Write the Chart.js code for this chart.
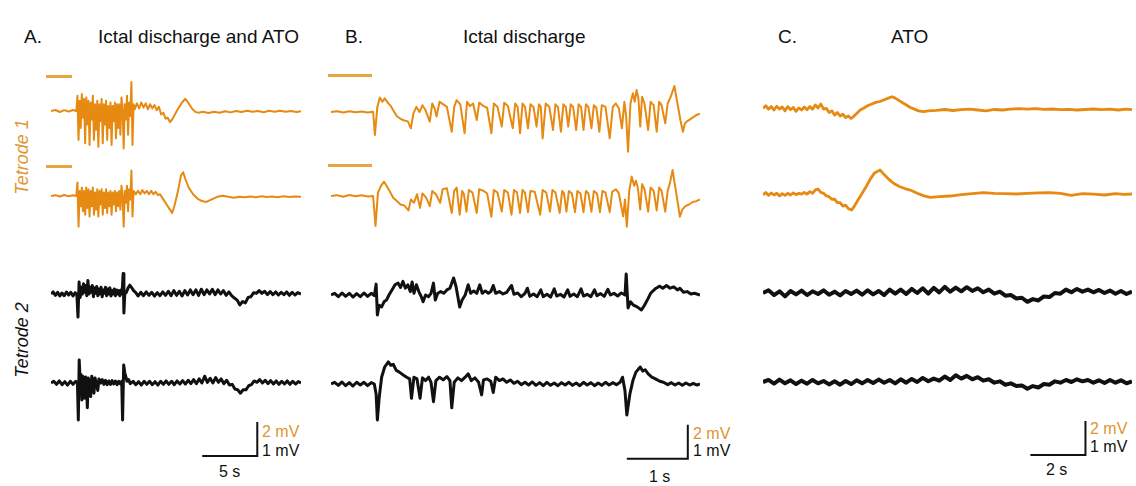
<!DOCTYPE html>
<html>
<head>
<meta charset="utf-8">
<script src="https://cdn.jsdelivr.net/npm/chart.js"></script>
<style>
  body { margin: 0; background: #fff; }
  #fig { position: relative; width: 1136px; height: 486px; overflow: hidden;
         font-family: "Liberation Sans", Arial, sans-serif; color: #111; }
  #fig canvas { position: absolute; }
  .txt { position: absolute; white-space: nowrap; line-height: 1; }
  .title { font-size: 19px; top: 27px; }
  .ylab { font-size: 18px; font-style: italic; transform: translate(-50%, -50%) rotate(-90deg); }
  .scale { font-size: 16px; }
  .orange { color: #e0952e; }
  .mark { position: absolute; height: 3px; background: #e8a540; }
</style>
</head>
<body>
<div id="fig">
  <div class="txt title" style="left:24px">A.</div>
  <div class="txt title" style="left:98px">Ictal discharge and ATO</div>
  <div class="txt title" style="left:345px">B.</div>
  <div class="txt title" style="left:463px">Ictal discharge</div>
  <div class="txt title" style="left:778px">C.</div>
  <div class="txt title" style="left:891px">ATO</div>

  <div class="txt ylab orange" style="left:22px;top:157px">Tetrode 1</div>
  <div class="txt ylab" style="left:22px;top:340px">Tetrode 2</div>

  <div class="mark" style="left:46px;top:75px;width:26px"></div>
  <div class="mark" style="left:46px;top:165px;width:26px"></div>
  <div class="mark" style="left:328px;top:74px;width:44px"></div>
  <div class="mark" style="left:328px;top:164px;width:44px"></div>

  <div class="txt scale orange" style="left:262px;top:424px">2 mV</div>
  <div class="txt scale" style="left:262px;top:443px">1 mV</div>
  <div class="txt scale" style="left:219px;top:464px">5 s</div>
  <div class="txt scale orange" style="left:693px;top:426px">2 mV</div>
  <div class="txt scale" style="left:693px;top:443px">1 mV</div>
  <div class="txt scale" style="left:649px;top:469px">1 s</div>
  <div class="txt scale orange" style="left:1090px;top:421px">2 mV</div>
  <div class="txt scale" style="left:1090px;top:439px">1 mV</div>
  <div class="txt scale" style="left:1046px;top:462px">2 s</div>
</div>

<script>
// ---- traces: [time (s), value (mV)] ----

// A. Ictal discharge and ATO
const aTetrode1ch1 = [
  [0,0],[0.4,0.06],[0.8,-0.06],[1.2,0.05],[1.6,-0.03],[2.0,0.06],[2.3,0],
  [2.4,0.9],[2.5,-1.7],[2.6,0.6],[2.7,-1.0],[2.8,1.0],[2.9,-0.4],[3.0,0.7],[3.1,-1.9],[3.2,0.8],[3.3,-0.8],
  [3.4,0.6],[3.5,-2.0],[3.6,0.5],[3.7,-0.5],[3.8,0.9],[3.9,-1.7],[4.0,0.4],[4.1,-1.1],[4.2,0.6],[4.3,-2.1],
  [4.4,0.4],[4.5,-0.6],[4.6,0.7],[4.7,-1.9],[4.8,0.4],[4.9,-0.8],[5.0,0.6],[5.1,-1.7],[5.2,0.3],[5.3,-1.0],
  [5.4,0.5],[5.5,-2.0],[5.6,0.3],[5.7,-0.6],[5.8,0.5],[5.9,-1.6],[6.0,0.4],[6.1,-1.0],[6.2,0.4],[6.3,-1.4],
  [6.4,0.8],[6.5,0.1],[6.6,-2.2],[6.7,0.4],[6.8,-0.5],[6.9,0.9],[7.0,-1.4],[7.1,0.5],[7.2,-0.3],[7.3,1.7],
  [7.4,-2.0],[7.5,0.4],
  [7.6,0.1],[7.8,0.45],[8.0,0.15],[8.2,0.5],[8.4,0.2],[8.6,0.45],[8.8,0.1],[9.0,0.4],[9.2,0.15],[9.4,0.35],
  [9.6,0.05],[9.8,0.25],[10.0,-0.2],[10.2,-0.1],[10.4,-0.45],[10.6,-0.4],[10.8,-0.65],[11.0,-0.5],[11.3,-0.15],
  [11.6,0.2],[11.9,0.5],[12.2,0.72],[12.5,0.45],[12.8,0.15],[13.1,-0.05],[13.4,-0.1],
  [13.8,-0.05],[14.3,-0.12],[14.8,-0.04],[15.3,-0.1],[15.8,-0.02],[16.3,-0.08],[16.8,0.0],[17.3,-0.06],
  [17.8,0.02],[18.3,-0.05],[18.8,0.0],[19.3,-0.07],[19.8,0.01],[20.3,-0.04],[20.8,0.02],[21.3,-0.05],
  [21.8,0.0],[22.3,-0.06],[22.7,-0.02]
];
const aTetrode1ch2 = [
  [0,0],[0.4,0.05],[0.8,-0.03],[1.2,0.06],[1.6,-0.02],[2.0,0.04],[2.3,0],
  [2.4,0.8],[2.5,-1.8],[2.6,0.3],[2.7,-0.6],[2.8,0.5],[2.9,-0.9],[3.0,0.3],[3.1,-1.1],[3.2,0.5],[3.3,-0.7],
  [3.4,0.4],[3.5,-1.2],[3.6,0.3],[3.7,-0.6],[3.8,0.5],[3.9,-1.1],[4.0,0.2],[4.1,-0.8],[4.2,0.4],[4.3,-1.2],
  [4.4,0.3],[4.5,-0.5],[4.6,0.4],[4.7,-1.1],[4.8,0.2],[4.9,-0.7],[5.0,0.4],[5.1,-1.0],[5.2,0.2],[5.3,-0.6],
  [5.4,0.3],[5.5,-1.1],[5.6,0.2],[5.7,-0.5],[5.8,0.3],[5.9,-0.9],[6.0,0.2],[6.1,-0.6],[6.2,0.3],[6.3,-0.8],
  [6.4,0.6],[6.5,0.0],[6.6,-1.8],[6.7,0.3],[6.8,-0.4],[6.9,0.6],[7.0,-0.9],[7.1,0.4],[7.2,-0.2],[7.3,1.5],
  [7.4,-1.2],[7.5,0.3],
  [7.7,0.1],[7.9,0.3],[8.1,0.1],[8.3,0.35],[8.5,0.15],[8.7,0.3],[8.9,0.1],[9.1,0.3],[9.3,0.1],[9.5,0.25],
  [9.7,0.05],[9.9,0.1],[10.2,-0.2],[10.5,-0.5],[10.8,-0.8],[11.0,-1.0],[11.2,-0.6],[11.5,0.2],[11.8,1.2],
  [12.0,1.4],[12.2,1.0],[12.5,0.5],[12.9,0.1],[13.3,-0.15],[13.7,-0.3],[14.1,-0.35],[14.6,-0.2],[15.1,-0.05],
  [15.6,0.02],[16.1,-0.05],[16.6,-0.1],[17.1,-0.05],[17.6,-0.08],[18.1,-0.03],[18.6,-0.07],[19.1,-0.02],
  [19.6,-0.06],[20.1,-0.03],[20.6,-0.07],[21.1,-0.02],[21.6,-0.06],[22.1,-0.03],[22.7,-0.05]
];
const aTetrode2ch1 = [
  [0,0],[0.2,0.06],[0.4,-0.04],[0.6,0.05],[0.8,-0.06],[1.0,0.03],[1.2,-0.05],[1.4,0.06],[1.6,-0.03],
  [1.8,0.05],[2.0,-0.06],[2.2,0.04],[2.35,-0.02],
  [2.45,-0.68],[2.55,0.35],[2.65,-0.1],[2.75,0.2],[2.85,0.0],[2.95,0.3],[3.05,0.05],[3.15,0.25],[3.25,-0.05],
  [3.35,0.4],[3.45,0.0],[3.55,0.2],[3.65,0.05],[3.75,0.25],[3.85,-0.08],[3.95,0.18],[4.05,0.02],[4.15,0.22],
  [4.25,-0.05],[4.35,0.15],[4.45,0.0],[4.55,0.2],[4.65,-0.08],[4.75,0.12],[4.85,0.02],[4.95,0.2],[5.05,-0.05],
  [5.15,0.15],[5.25,0.0],[5.35,0.18],[5.45,-0.06],[5.55,0.1],[5.65,0.0],[5.75,0.15],[5.85,-0.05],[5.95,0.12],
  [6.05,0.0],[6.15,0.1],[6.25,-0.05],[6.35,0.12],[6.45,0.0],[6.55,0.6],[6.62,-0.56],[6.7,0.0],[6.85,0.05],
  [7.0,0.18],[7.15,0.26],[7.3,0.2],[7.5,0.1],
  [7.7,0.04],[7.9,-0.06],[8.15,0.05],[8.4,-0.05],[8.65,0.06],[8.9,-0.04],[9.15,0.05],[9.4,-0.06],[9.65,0.04],
  [9.9,-0.05],[10.15,0.06],[10.4,-0.04],[10.65,0.08],[10.9,-0.05],[11.15,0.1],[11.4,-0.04],[11.65,0.08],
  [11.9,-0.06],[12.15,0.1],[12.4,-0.03],[12.65,0.12],[12.9,-0.02],[13.15,0.12],[13.4,-0.04],[13.65,0.14],
  [13.9,-0.02],[14.15,0.12],[14.4,0.0],[14.65,0.14],[14.9,-0.02],[15.15,0.12],[15.4,0.0],[15.65,0.1],
  [15.9,-0.04],[16.15,0.06],[16.4,-0.05],[16.65,-0.12],[16.9,-0.18],[17.15,-0.32],[17.4,-0.22],[17.65,-0.26],
  [17.9,-0.1],[18.15,-0.08],[18.4,0.04],[18.65,0.02],[18.9,0.1],[19.15,0.02],[19.4,0.08],[19.65,-0.02],
  [19.9,0.07],[20.15,-0.02],[20.4,0.06],[20.65,-0.03],[20.9,0.05],[21.15,-0.02],[21.4,0.06],[21.65,-0.04],
  [21.9,0.05],[22.15,-0.03],[22.4,0.04],[22.7,0.0]
];
const aTetrode2ch2 = [
  [0,0],[0.25,0.05],[0.5,-0.04],[0.75,0.06],[1.0,-0.05],[1.25,0.04],[1.5,-0.06],[1.75,0.05],[2.0,-0.04],
  [2.25,0.05],[2.4,0.0],
  [2.48,-1.09],[2.56,0.68],[2.64,0.1],[2.72,0.25],[2.8,-0.5],[2.88,0.2],[2.96,0.05],[3.05,-0.45],[3.14,0.18],
  [3.22,0.0],[3.3,-0.73],[3.38,0.15],[3.47,0.05],[3.6,-0.4],[3.7,0.2],[3.8,0.05],[3.9,-0.3],[4.0,0.15],
  [4.1,0.0],[4.25,-0.22],[4.35,0.12],[4.5,0.0],[4.65,0.1],[4.8,-0.04],[4.95,0.08],[5.1,-0.05],[5.25,0.06],
  [5.4,-0.04],[5.55,0.07],[5.7,-0.03],[5.85,0.06],[6.0,-0.05],[6.15,0.05],[6.3,-0.03],[6.42,0.05],
  [6.5,-1.09],[6.6,0.53],[6.7,0.3],[6.8,0.18],[6.9,0.05],[7.05,0.1],[7.2,-0.02],[7.45,0.05],[7.7,-0.05],
  [7.95,0.04],[8.2,-0.06],[8.45,0.05],[8.7,-0.04],[8.95,0.05],[9.2,-0.05],[9.45,0.04],[9.7,-0.06],[9.95,0.05],
  [10.2,-0.04],[10.45,0.06],[10.7,-0.04],[10.95,0.05],[11.2,-0.05],[11.45,0.06],[11.7,-0.03],[11.95,0.07],
  [12.2,-0.03],[12.45,0.08],[12.7,-0.02],[12.95,0.1],[13.2,-0.02],[13.45,0.12],[13.7,0.0],[13.95,0.2],
  [14.2,0.02],[14.45,0.14],[14.7,0.0],[14.95,0.16],[15.2,0.02],[15.45,0.12],[15.7,-0.02],[15.95,0.08],
  [16.2,-0.06],[16.45,-0.04],[16.7,-0.18],[16.95,-0.2],[17.2,-0.3],[17.45,-0.2],[17.7,-0.2],[17.95,-0.08],
  [18.2,-0.05],[18.45,0.06],[18.7,0.02],[18.95,0.1],[19.2,0.0],[19.45,0.08],[19.7,-0.02],[19.95,0.07],
  [20.2,-0.03],[20.45,0.06],[20.7,-0.04],[20.95,0.05],[21.2,-0.03],[21.45,0.06],[21.7,-0.04],[21.95,0.05],
  [22.2,-0.03],[22.45,0.04],[22.7,0.0]
];

// B. Ictal discharge
const bTetrode1ch1 = [
  [0,0],[0.1,0.04],[0.2,-0.03],[0.3,0.05],[0.4,-0.02],[0.5,0.03],[0.6,-0.03],[0.69,0.02],
  [0.72,-1.35],[0.76,0.3],[0.8,0.85],[0.84,0.6],[0.88,0.8],[0.93,0.55],[0.98,0.35],[1.02,0.1],[1.08,-0.25],
  [1.14,-0.4],[1.2,-0.5],[1.26,-0.55],[1.31,-0.96],[1.35,-0.1],[1.4,0.3],[1.45,0.0],[1.5,0.4],[1.55,0.1],
  [1.62,-0.57],[1.66,0.5],[1.7,0.2],[1.73,-0.27],[1.78,0.6],[1.84,0.45],[1.9,0.3],[1.98,-1.16],[2.02,0.3],
  [2.06,0.7],[2.12,0.45],[2.19,-1.25],[2.23,0.6],[2.28,0.35],[2.33,0.5],[2.39,-0.47],[2.43,0.55],[2.5,0.35],
  [2.56,0.25],[2.63,-1.25],[2.67,0.5],[2.73,0.3],[2.8,-0.86],[2.84,0.55],[2.9,0.35],[2.98,-0.96],[3.02,0.5],
  [3.06,0.3],[3.1,-1.25],[3.14,0.5],[3.18,0.3],[3.23,-0.96],[3.27,0.45],[3.32,0.3],[3.37,-0.86],[3.41,0.45],
  [3.44,0.3],[3.47,-1.55],[3.52,0.5],[3.58,0.3],[3.64,-1.06],[3.68,0.45],[3.72,0.3],[3.77,-1.16],[3.81,0.45],
  [3.85,0.3],[3.89,-0.86],[3.93,0.45],[3.97,0.3],[4.02,-1.06],[4.06,0.45],[4.1,0.3],[4.14,-1.06],[4.18,0.45],
  [4.22,0.3],[4.27,-0.96],[4.31,0.4],[4.35,0.25],[4.4,-1.16],[4.44,0.4],[4.5,0.3],[4.57,-1.55],[4.62,0.3],
  [4.67,0.5],[4.72,0.2],[4.77,-0.96],[4.81,0.6],[4.84,-0.3],[4.87,-2.33],[4.91,0.5],[4.95,1.1],[4.98,0.6],
  [5.01,1.3],[5.04,0.8],[5.07,-0.86],[5.1,0.9],[5.14,0.5],[5.2,-1.06],[5.24,0.6],[5.29,0.4],[5.34,-1.16],
  [5.38,0.6],[5.42,0.4],[5.48,-0.67],[5.52,0.5],[5.57,0.9],[5.63,1.53],[5.68,0.5],[5.73,-0.5],[5.77,-1.16],
  [5.8,-0.7],[5.83,-0.57],[5.88,-0.45],[5.94,-0.3],[5.99,-0.18],[6.05,-0.1]
];
const bTetrode1ch2 = [
  [0,0],[0.1,0.05],[0.2,-0.04],[0.3,0.06],[0.4,-0.02],[0.5,0.04],[0.6,-0.03],[0.69,0.0],
  [0.73,-1.76],[0.77,0.2],[0.82,0.6],[0.87,0.84],[0.91,0.6],[0.96,0.3],[1.02,-0.1],[1.08,-0.3],[1.14,-0.5],
  [1.2,-0.55],[1.27,-0.85],[1.31,-0.2],[1.36,-0.4],[1.41,0.1],[1.46,-0.7],[1.5,0.15],[1.56,-0.1],[1.62,-0.6],
  [1.66,0.3],[1.72,0.1],[1.79,-0.4],[1.83,0.4],[1.9,0.45],[1.98,-1.0],[2.02,0.3],[2.06,0.5],[2.11,-1.1],
  [2.15,0.3],[2.18,0.1],[2.22,-0.92],[2.26,0.35],[2.32,0.2],[2.39,-1.0],[2.43,0.4],[2.5,0.3],[2.56,0.15],
  [2.63,-1.22],[2.67,0.35],[2.73,0.2],[2.8,-0.92],[2.84,0.35],[2.9,0.2],[2.96,-1.1],[3.0,0.35],[3.05,0.2],
  [3.1,-1.0],[3.14,0.35],[3.18,0.2],[3.23,-0.95],[3.27,0.3],[3.34,0.25],[3.43,-1.1],[3.47,0.35],[3.53,0.2],
  [3.59,-0.92],[3.63,0.35],[3.68,0.2],[3.75,-1.0],[3.79,0.3],[3.82,0.15],[3.86,-0.92],[3.9,0.3],[3.95,0.15],
  [4.0,-0.95],[4.04,0.3],[4.09,0.15],[4.14,-0.95],[4.18,0.3],[4.22,0.15],[4.27,-0.92],[4.31,0.3],[4.36,0.15],
  [4.41,-0.95],[4.45,0.3],[4.5,0.2],[4.57,-0.95],[4.61,0.25],[4.67,0.4],[4.72,0.15],[4.79,-1.2],[4.82,-0.2],
  [4.85,-1.8],[4.89,0.3],[4.93,1.14],[4.97,0.6],[5.0,0.9],[5.03,0.5],[5.07,-0.8],[5.1,0.7],[5.14,0.4],
  [5.2,-0.92],[5.24,0.5],[5.29,0.3],[5.34,-0.85],[5.38,0.5],[5.42,0.3],[5.48,-0.92],[5.52,0.3],[5.56,0.8],
  [5.6,1.53],[5.65,0.4],[5.69,-0.5],[5.72,-1.22],[5.76,-0.8],[5.81,-0.6],[5.87,-0.5],[5.93,-0.35],[5.99,-0.3],
  [6.05,-0.2]
];
const bTetrode2ch1 = [
  [0,0],[0.06,0.05],[0.12,-0.05],[0.18,0.06],[0.24,-0.04],[0.3,0.05],[0.36,-0.06],[0.42,0.04],[0.48,-0.05],
  [0.54,0.06],[0.6,-0.04],[0.66,0.05],[0.71,-0.02],
  [0.74,0.32],[0.76,-0.59],[0.79,-0.3],[0.83,-0.35],[0.87,-0.2],[0.91,-0.15],[0.95,0.0],[1.0,0.15],[1.05,0.3],
  [1.1,0.35],[1.14,0.22],[1.18,0.4],[1.22,0.2],[1.26,0.3],[1.3,0.1],[1.33,0.38],[1.36,0.05],[1.4,0.3],
  [1.44,0.1],[1.48,-0.05],[1.51,-0.2],[1.55,0.0],[1.6,-0.05],[1.64,0.05],[1.68,0.35],[1.71,-0.15],[1.75,0.05],
  [1.8,0.1],[1.85,0.05],[1.9,0.15],[1.95,0.2],[2.01,0.5],[2.05,0.25],[2.11,-0.35],[2.15,-0.15],[2.2,0.0],
  [2.25,0.3],[2.29,0.05],[2.34,0.12],[2.39,0.05],[2.44,0.3],[2.48,0.05],[2.53,0.12],[2.58,0.05],[2.62,0.1],
  [2.66,0.28],[2.7,0.05],[2.76,0.1],[2.82,0.03],[2.88,0.08],[2.96,0.28],[3.0,0.02],[3.06,0.06],[3.12,-0.05],
  [3.18,0.05],[3.22,0.2],[3.26,-0.04],[3.32,0.03],[3.38,-0.05],[3.44,0.15],[3.48,-0.05],[3.54,0.02],
  [3.6,-0.06],[3.66,0.18],[3.7,-0.03],[3.76,0.02],[3.82,-0.06],[3.88,0.15],[3.92,-0.04],[3.98,0.03],
  [4.04,-0.05],[4.1,0.18],[4.14,-0.03],[4.2,0.02],[4.26,-0.05],[4.32,0.15],[4.36,-0.02],[4.42,0.04],
  [4.48,-0.04],[4.54,0.17],[4.58,0.0],[4.64,0.05],[4.7,-0.03],[4.76,0.06],[4.82,0.0],[4.84,0.62],[4.87,-0.38],
  [4.91,-0.2],[4.96,-0.3],[5.02,-0.35],[5.09,-0.44],[5.14,-0.3],[5.2,-0.1],[5.24,0.05],[5.28,0.12],[5.33,0.2],
  [5.39,0.26],[5.44,0.2],[5.5,0.28],[5.56,0.2],[5.62,0.24],[5.68,0.15],[5.72,0.2],[5.78,0.08],[5.84,0.1],
  [5.9,0.03],[5.96,0.05],[6.05,0.0]
];
const bTetrode2ch2 = [
  [0,0],[0.06,0.05],[0.12,-0.04],[0.18,0.06],[0.24,-0.05],[0.3,0.04],[0.36,-0.06],[0.42,0.05],[0.48,-0.03],
  [0.54,0.05],[0.6,-0.05],[0.66,0.04],[0.71,0.0],
  [0.74,-0.3],[0.76,-1.06],[0.79,-0.4],[0.83,0.2],[0.88,0.5],[0.94,0.65],[0.98,0.55],[1.02,0.58],[1.07,0.4],
  [1.12,0.35],[1.19,0.26],[1.24,0.2],[1.29,0.15],[1.32,-0.42],[1.36,0.2],[1.41,0.15],[1.46,-0.42],[1.5,0.18],
  [1.55,0.1],[1.6,0.2],[1.64,0.05],[1.68,-0.52],[1.72,0.1],[1.78,0.2],[1.84,0.12],[1.9,0.22],[1.95,0.1],
  [1.98,-0.7],[2.02,0.05],[2.08,0.18],[2.14,0.1],[2.2,0.2],[2.25,0.3],[2.3,0.1],[2.36,0.18],[2.42,0.05],
  [2.47,-0.32],[2.5,0.12],[2.56,0.15],[2.62,0.08],[2.66,-0.25],[2.7,0.2],[2.76,0.1],[2.82,0.15],[2.88,0.05],
  [2.94,0.12],[3.0,0.02],[3.06,0.08],[3.12,-0.02],[3.18,0.05],[3.24,-0.03],[3.3,0.06],[3.36,-0.04],[3.42,0.04],
  [3.48,-0.05],[3.54,0.05],[3.6,-0.04],[3.66,0.03],[3.72,-0.05],[3.78,0.04],[3.84,-0.03],[3.9,0.05],
  [3.96,-0.04],[4.02,0.03],[4.08,-0.05],[4.14,0.05],[4.2,-0.03],[4.26,0.04],[4.32,-0.05],[4.38,0.03],
  [4.44,-0.04],[4.5,0.05],[4.56,-0.03],[4.62,0.04],[4.68,-0.02],[4.74,0.05],[4.78,0.2],[4.82,-0.2],
  [4.85,-0.91],[4.9,-0.3],[4.95,0.1],[5.0,0.35],[5.07,0.5],[5.11,0.38],[5.15,0.42],[5.2,0.3],[5.26,0.2],
  [5.32,0.15],[5.39,0.08],[5.45,0.05],[5.52,-0.02],[5.58,0.04],[5.64,-0.03],[5.7,0.03],[5.76,-0.04],
  [5.82,0.03],[5.88,-0.03],[5.94,0.02],[6.0,-0.03],[6.05,0.0]
];

// C. ATO
const cTetrode1ch1 = [
  [0,0.1],[0.1,0.25],[0.2,0.05],[0.3,0.2],[0.4,0.0],[0.5,0.22],[0.6,0.05],[0.7,0.18],[0.8,-0.05],[0.9,0.2],
  [1.0,0.02],[1.1,0.15],[1.2,-0.08],[1.3,0.12],[1.4,0.0],[1.5,0.18],[1.6,0.02],[1.7,0.2],[1.8,0.05],[1.9,0.3],
  [2.0,0.12],[2.1,0.35],[2.2,0.05],[2.3,0.1],[2.4,-0.15],[2.5,-0.05],[2.6,-0.3],[2.7,-0.15],[2.8,-0.35],
  [2.9,-0.25],[3.0,-0.45],[3.1,-0.35],[3.2,-0.5],[3.28,-0.4],[3.4,-0.2],[3.53,0.0],[3.65,0.1],[3.8,0.25],
  [3.95,0.35],[4.1,0.45],[4.25,0.5],[4.4,0.6],[4.55,0.7],[4.68,0.78],[4.8,0.7],[4.95,0.55],[5.1,0.4],
  [5.22,0.28],[5.35,0.15],[5.5,0.05],[5.65,-0.05],[5.83,-0.1],[6.0,-0.05],[6.3,-0.02],[6.6,0.03],[6.9,-0.03],
  [7.2,0.02],[7.5,0.05],[7.8,0.0],[8.1,-0.05],[8.4,0.03],[8.7,0.0],[9.0,0.05],[9.3,0.08],[9.6,0.05],
  [9.9,0.08],[10.2,0.04],[10.5,0.06],[10.8,0.02],[11.1,0.04],[11.4,0.0],[11.7,0.03],[12.0,0.06],[12.3,0.02],
  [12.6,0.05],[12.9,0.0],[13.2,0.05],[13.4,0.02]
];
const cTetrode1ch2 = [
  [0,0],[0.1,0.15],[0.2,-0.02],[0.3,0.12],[0.4,0.0],[0.5,0.1],[0.6,-0.05],[0.7,0.08],[0.8,-0.02],[0.9,0.1],
  [1.0,0.0],[1.1,0.12],[1.2,0.02],[1.3,0.1],[1.4,0.05],[1.5,0.15],[1.6,0.05],[1.7,0.2],[1.8,0.1],[1.9,0.3],
  [2.0,0.35],[2.1,0.15],[2.2,0.1],[2.3,-0.05],[2.4,-0.1],[2.5,-0.25],[2.6,-0.25],[2.7,-0.45],[2.8,-0.45],
  [2.9,-0.65],[3.0,-0.6],[3.1,-0.8],[3.22,-0.88],[3.3,-0.7],[3.45,-0.3],[3.6,0.1],[3.75,0.5],[3.9,0.95],
  [4.05,1.3],[4.25,1.47],[4.4,1.2],[4.55,0.95],[4.74,0.69],[4.95,0.5],[5.15,0.38],[5.35,0.29],[5.6,0.1],
  [5.85,-0.05],[6.07,-0.14],[6.4,-0.1],[6.8,-0.06],[7.2,0.02],[7.6,0.08],[8.0,0.14],[8.4,0.1],[8.8,0.08],
  [9.2,0.06],[9.6,0.1],[10.0,0.12],[10.4,0.14],[10.8,0.1],[11.2,-0.02],[11.6,0.08],[12.0,0.05],[12.4,0.0],
  [12.8,0.08],[13.1,0.04],[13.4,0.06]
];
const cTetrode2ch1 = [
  [0,0.0],[0.2,0.08],[0.4,-0.06],[0.6,0.05],[0.8,-0.1],[1.0,0.06],[1.2,-0.04],[1.4,0.07],[1.6,-0.06],
  [1.8,0.05],[2.0,-0.03],[2.2,0.08],[2.4,-0.05],[2.6,0.04],[2.8,-0.07],[3.0,0.06],[3.2,-0.03],[3.4,0.07],
  [3.6,-0.05],[3.8,0.08],[4.0,-0.04],[4.2,0.06],[4.4,-0.06],[4.6,0.1],[4.8,-0.02],[5.0,0.1],[5.2,-0.03],
  [5.4,0.12],[5.6,0.0],[5.8,0.14],[6.0,-0.02],[6.2,0.15],[6.4,0.02],[6.6,0.18],[6.8,0.04],[7.0,0.16],
  [7.2,0.05],[7.4,0.17],[7.6,0.06],[7.8,0.14],[8.0,0.02],[8.2,0.1],[8.4,-0.02],[8.6,0.04],[8.8,-0.08],
  [9.0,-0.06],[9.2,-0.16],[9.4,-0.14],[9.6,-0.26],[9.8,-0.18],[10.0,-0.22],[10.2,-0.1],[10.4,-0.12],
  [10.6,0.0],[10.8,-0.02],[11.0,0.1],[11.2,0.02],[11.4,0.12],[11.6,0.04],[11.8,0.1],[12.0,0.02],[12.2,0.09],
  [12.4,0.0],[12.6,0.07],[12.8,-0.02],[13.0,0.06],[13.2,-0.03],[13.4,0.04]
];
const cTetrode2ch2 = [
  [0,0.0],[0.2,0.06],[0.4,-0.05],[0.6,0.07],[0.8,-0.04],[1.0,0.05],[1.2,-0.06],[1.4,0.04],[1.6,-0.05],
  [1.8,0.06],[2.0,-0.04],[2.2,0.03],[2.4,-0.07],[2.6,0.02],[2.8,-0.08],[3.0,0.03],[3.2,-0.06],[3.4,0.05],
  [3.6,-0.04],[3.8,0.06],[4.0,-0.03],[4.2,0.07],[4.4,-0.02],[4.6,0.06],[4.8,-0.04],[5.0,0.08],[5.2,-0.02],
  [5.4,0.09],[5.6,0.0],[5.8,0.12],[6.0,0.02],[6.2,0.1],[6.4,0.04],[6.6,0.16],[6.8,0.06],[7.0,0.2],[7.2,0.1],
  [7.4,0.18],[7.6,0.08],[7.8,0.14],[8.0,0.04],[8.2,0.08],[8.4,-0.02],[8.6,0.02],[8.8,-0.08],[9.0,-0.04],
  [9.2,-0.12],[9.4,-0.1],[9.6,-0.2],[9.8,-0.12],[10.0,-0.16],[10.2,-0.06],[10.4,-0.08],[10.6,0.02],
  [10.8,-0.02],[11.0,0.06],[11.2,0.0],[11.4,0.08],[11.6,0.02],[11.8,0.06],[12.0,-0.02],[12.2,0.05],
  [12.4,-0.03],[12.6,0.06],[12.8,-0.02],[13.0,0.05],[13.2,-0.04],[13.4,0.02]
];

// scale bars: [seconds, mV of the black traces (orange is 2x)]
const scaleBarA = [5, 1];
const scaleBarB = [1, 1];
const scaleBarC = [2, 1];

// ---- layout ----
const ORANGE = "#e68a12";
const BLACK = "#111111";
const PX_PER_MV = { orange: 17, black: 34 };
const panels = {
  A: { left: 51, pxPerSec: 11, dur: 22.7 },
  B: { left: 331, pxPerSec: 61, dur: 6.05 },
  C: { left: 763, pxPerSec: 27.5, dur: 13.4 }
};
const HALF = 45;
// line widths mimic the thickness of the recorded noise band
const WIDTH = {
  orange: { A: 2.0, B: 2.0, C: 2.8 },
  black: { A: 3.0, B: 3.0, C: 4.0 }
};

const traces = [
  { panel: "A", data: aTetrode1ch1, kind: "orange", base: 111 },
  { panel: "A", data: aTetrode1ch2, kind: "orange", base: 196 },
  { panel: "A", data: aTetrode2ch1, kind: "black", base: 294 },
  { panel: "A", data: aTetrode2ch2, kind: "black", base: 383, bottom: 466, bar: scaleBarA, barAt: [13.73, -2.15] },
  { panel: "B", data: bTetrode1ch1, kind: "orange", base: 112 },
  { panel: "B", data: bTetrode1ch2, kind: "orange", base: 196 },
  { panel: "B", data: bTetrode2ch1, kind: "black", base: 295 },
  { panel: "B", data: bTetrode2ch2, kind: "black", base: 384, bottom: 470, bar: scaleBarB, barAt: [4.85, -2.2] },
  { panel: "C", data: cTetrode1ch1, kind: "orange", base: 110 },
  { panel: "C", data: cTetrode1ch2, kind: "orange", base: 195 },
  { panel: "C", data: cTetrode2ch1, kind: "black", base: 293 },
  { panel: "C", data: cTetrode2ch2, kind: "black", base: 382, bottom: 466, bar: scaleBarC, barAt: [9.71, -2.15] }
];

const fig = document.getElementById("fig");

function makeTrace(tr) {
  const p = panels[tr.panel];
  const pxPerMv = PX_PER_MV[tr.kind];
  const top = tr.base - HALF;
  const height = (tr.bottom || tr.base + HALF) - top;
  const canvas = document.createElement("canvas");
  canvas.width = Math.round(p.dur * p.pxPerSec);
  canvas.height = height;
  canvas.style.left = p.left + "px";
  canvas.style.top = top + "px";
  fig.appendChild(canvas);

  const datasets = [{
    data: tr.data.map(([x, y]) => ({ x, y })),
    borderColor: tr.kind === "orange" ? ORANGE : BLACK,
    borderWidth: WIDTH[tr.kind][tr.panel],
    borderJoinStyle: "round",
    pointRadius: 0,
    tension: 0,
    clip: false
  }];

  if (tr.bar) {
    const [t0, y0] = tr.barAt;
    const [sec, mv] = tr.bar;
    datasets.push({
      data: [{ x: t0, y: y0 }, { x: t0 + sec, y: y0 }, { x: t0 + sec, y: y0 + mv }],
      borderColor: BLACK,
      borderWidth: 2,
      borderJoinStyle: "miter",
      pointRadius: 0,
      clip: false
    });
  }

  new Chart(canvas, {
    type: "line",
    data: { datasets },
    options: {
      responsive: false,
      animation: false,
      devicePixelRatio: 1,
      events: [],
      layout: { padding: 0 },
      plugins: { legend: { display: false }, tooltip: { enabled: false } },
      scales: {
        x: { type: "linear", display: false, min: 0, max: p.dur },
        y: { display: false, min: -(height - HALF) / pxPerMv, max: HALF / pxPerMv }
      }
    }
  });
}

traces.forEach(makeTrace);
</script>
</body>
</html>
